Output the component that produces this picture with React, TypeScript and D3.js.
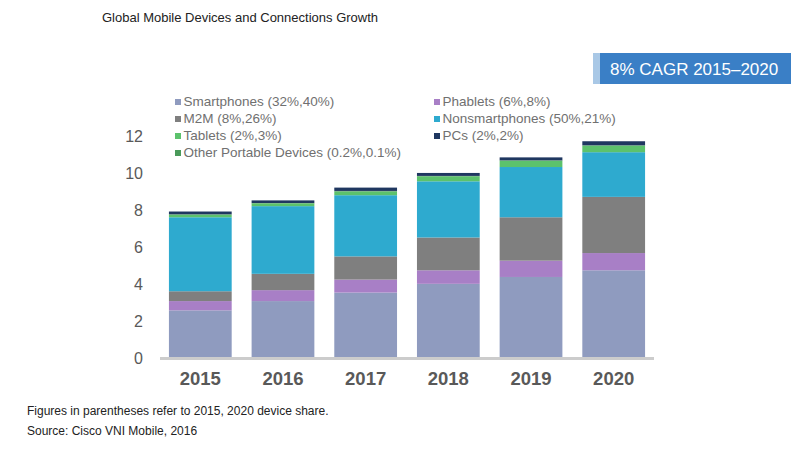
import React from "react";
import * as d3 from "d3";

const years = ["2015", "2016", "2017", "2018", "2019", "2020"];
const smartphones = [2.57, 3.07, 3.53, 4.0, 4.37, 4.73];
const phablets = [0.5, 0.59, 0.7, 0.73, 0.88, 0.93];
const m2m = [0.53, 0.88, 1.25, 1.77, 2.34, 3.03];
const nonsmartphones = [3.99, 3.65, 3.3, 3.03, 2.71, 2.41];
const tablets = [0.14, 0.15, 0.2, 0.27, 0.34, 0.36];
const otherPortable = [0.02, 0.02, 0.03, 0.02, 0.02, 0.01];
const pcs = [0.15, 0.14, 0.18, 0.16, 0.16, 0.22];
const yTicks = [0, 2, 4, 6, 8, 10, 12];

const seriesKeys = ["smart", "phab", "m2m", "nonsmart", "tablets", "other", "pcs"];
const seriesColors: Record<string, string> = {
  smart: "#8f9bbf",
  phab: "#a87fc6",
  m2m: "#7f7f7f",
  nonsmart: "#2eaacf",
  tablets: "#5cc26c",
  other: "#4a9a5a",
  pcs: "#1f3760",
};

const legendItems = [
  { key: "smart", label: "Smartphones (32%,40%)", col: 0, row: 0 },
  { key: "phab", label: "Phablets (6%,8%)", col: 1, row: 0 },
  { key: "m2m", label: "M2M (8%,26%)", col: 0, row: 1 },
  { key: "nonsmart", label: "Nonsmartphones (50%,21%)", col: 1, row: 1 },
  { key: "tablets", label: "Tablets (2%,3%)", col: 0, row: 2 },
  { key: "pcs", label: "PCs (2%,2%)", col: 1, row: 2 },
  { key: "other", label: "Other Portable Devices (0.2%,0.1%)", col: 0, row: 3 },
];

const FONT = "Arial, 'Liberation Sans', Helvetica, sans-serif";

export default function App() {
  const table = years.map((y, i) => ({
    year: y,
    smart: smartphones[i],
    phab: phablets[i],
    m2m: m2m[i],
    nonsmart: nonsmartphones[i],
    tablets: tablets[i],
    other: otherPortable[i],
    pcs: pcs[i],
  }));
  const stacked = d3.stack<any>().keys(seriesKeys)(table);

  const x = d3
    .scaleBand<string>()
    .domain(years)
    .range([160, 654])
    .paddingInner(0.241)
    .paddingOuter(0.108);
  const y = d3.scaleLinear().domain([0, 12]).range([358, 135.5]);

  return (
    <svg
      width={800}
      height={456}
      style={{ position: "absolute", left: 0, top: 0, background: "#fff" }}
      fontFamily={FONT}
    >
      <rect x={0} y={0} width={800} height={456} fill="#ffffff" />
      <text x={102} y={22} fontSize={13} fill="#222">
        Global Mobile Devices and Connections Growth
      </text>

      {/* CAGR box */}
      <rect x={593} y={53} width={198} height={31} fill="#3a7fc6" />
      <rect x={593} y={53} width={7} height={31} fill="#a9c8e6" />
      <text x={610} y={75} fontSize={17} fill="#ffffff">
        8% CAGR 2015–2020
      </text>

      {/* legend */}
      {legendItems.map((it) => {
        const lx = it.col === 0 ? 175 : 434;
        const ly = 102.5 + it.row * 17;
        return (
          <g key={it.key}>
            <rect x={lx} y={ly - 3.5} width={6} height={6} fill={seriesColors[it.key]} />
            <text x={lx + 8.5} y={ly} fontSize={13.5} fill="#707070" dominantBaseline="middle">
              {it.label}
            </text>
          </g>
        );
      })}

      {/* y tick labels */}
      {yTicks.map((t) => (
        <text
          key={t}
          x={143}
          y={y(t) + 2}
          fontSize={16}
          fill="#595959"
          textAnchor="end"
          dominantBaseline="middle"
        >
          {t}
        </text>
      ))}

      {/* bars */}
      {stacked.map((s) => (
        <g key={s.key} fill={seriesColors[s.key]}>
          {s.map((d, i) => (
            <rect
              key={i}
              x={x(years[i])}
              y={y(d[1])}
              width={x.bandwidth()}
              height={Math.max(0, y(d[0]) - y(d[1]))}
            />
          ))}
        </g>
      ))}

      {/* axis line */}
      <rect x={160} y={357} width={494} height={3} fill="#cccccc" />

      {/* x labels */}
      {years.map((yr) => (
        <text
          key={yr}
          x={(x(yr) as number) + x.bandwidth() / 2}
          y={385}
          fontSize={18.5}
          fontWeight="bold"
          fill="#595959"
          textAnchor="middle"
        >
          {yr}
        </text>
      ))}

      <text x={27} y={415} fontSize={12} fill="#222">
        Figures in parentheses refer to 2015, 2020 device share.
      </text>
      <text x={27} y={435} fontSize={12} fill="#222">
        Source: Cisco VNI Mobile, 2016
      </text>
    </svg>
  );
}
